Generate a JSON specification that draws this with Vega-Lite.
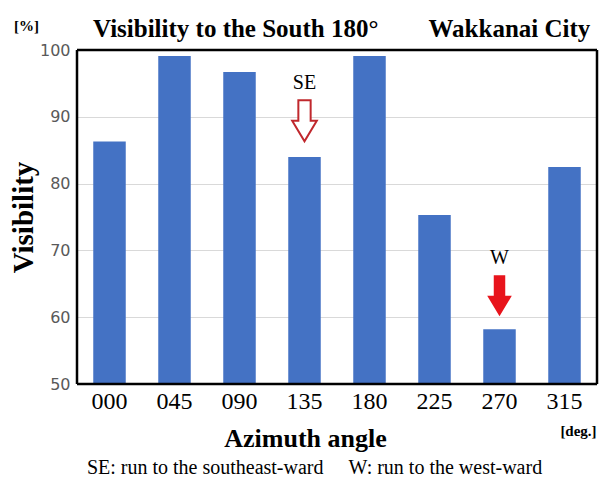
{
  "$schema": "https://vega.github.io/schema/vega-lite/v6.json",
  "width": 520,
  "height": 334,
  "autosize": {"type": "none"},
  "padding": {"left": 77, "top": 50, "right": 18, "bottom": 110},
  "background": "white",
  "config": {
    "view": {"stroke": null},
    "axis": {"ticks": false, "domain": false}
  },
  "title": {
    "text": "Visibility to the South 180°\u00a0\u00a0\u00a0\u00a0\u00a0\u00a0\u00a0\u00a0Wakkanai City",
    "font": "Liberation Serif",
    "fontSize": 25,
    "fontWeight": "bold",
    "color": "black",
    "anchor": "start",
    "frame": "group",
    "baseline": "alphabetic",
    "dx": 16,
    "offset": -44
  },
  "datasets": {
    "bars": [
      {"azimuth": "000", "visibility": 86.3},
      {"azimuth": "045", "visibility": 99.1},
      {"azimuth": "090", "visibility": 96.7},
      {"azimuth": "135", "visibility": 84.0},
      {"azimuth": "180", "visibility": 99.1},
      {"azimuth": "225", "visibility": 75.3},
      {"azimuth": "270", "visibility": 58.2},
      {"azimuth": "315", "visibility": 82.5}
    ],
    "notes": [
      {"azimuth": "135", "run": "SE", "at": 89.4},
      {"azimuth": "270", "run": "W", "at": 63.2}
    ],
    "frame": [
      {"side": "left", "azimuth": "000"},
      {"side": "right", "azimuth": "315"}
    ],
    "bounds": [
      {"visibility": 50},
      {"visibility": 100}
    ]
  },
  "layer": [
    {
      "data": {"name": "bars"},
      "mark": {"type": "bar", "color": "#4472c4", "clip": true},
      "encoding": {
        "x": {
          "field": "azimuth", "type": "nominal", "sort": null,
          "scale": {"paddingInner": 0.5, "paddingOuter": 0.25},
          "axis": {
            "orient": "bottom",
            "labelAngle": 0,
            "labelFont": "Liberation Serif",
            "labelFontSize": 24,
            "labelColor": "black",
            "labelPadding": 5,
            "title": "Azimuth angle",
            "titleFont": "Liberation Serif",
            "titleFontSize": 26,
            "titleFontWeight": "bold",
            "titleColor": "black",
            "titleX": 228,
            "titleY": 62,
            "titleBaseline": "alphabetic"
          }
        },
        "y": {
          "field": "visibility", "type": "quantitative",
          "scale": {"domain": [50, 100], "nice": false, "zero": false},
          "axis": {
            "orient": "left",
            "values": [50, 60, 70, 80, 90, 100],
            "grid": true,
            "gridColor": "#d9d9d9",
            "labelFont": "DejaVu Sans",
            "labelFontSize": 16,
            "labelColor": "#595959",
            "labelPadding": 7,
            "title": "Visibility",
            "titleFont": "Liberation Serif",
            "titleFontSize": 29,
            "titleFontWeight": "bold",
            "titleColor": "black",
            "titleAngle": 270,
            "titleX": -54,
            "titleY": 167,
            "titleAlign": "center",
            "titleBaseline": "middle"
          }
        }
      }
    },
    {
      "data": {"name": "notes"},
      "transform": [{"filter": "datum.run === 'SE'"}],
      "mark": {
        "type": "point",
        "shape": "M-0.3,-1L0.3,-1L0.3,0L0.6,0L0,1L-0.6,0L-0.3,0Z",
        "size": 1681,
        "filled": true,
        "fill": "white",
        "stroke": "#c0282d",
        "strokeWidth": 2,
        "opacity": 1
      },
      "encoding": {
        "x": {
          "field": "azimuth", "type": "nominal", "sort": null,
          "axis": {
            "orient": "bottom", "labels": false, "grid": false,
            "title": "[deg.]",
            "titleFont": "Liberation Serif", "titleFontSize": 15, "titleFontWeight": "bold", "titleColor": "black",
            "titleX": 501, "titleY": 46, "titleAlign": "center", "titleBaseline": "middle"
          }
        },
        "y": {
          "field": "at", "type": "quantitative",
          "axis": {
            "orient": "left", "labels": false, "grid": false,
            "title": "[%]",
            "titleFont": "Liberation Serif", "titleFontSize": 15, "titleFontWeight": "bold", "titleColor": "black",
            "titleAngle": 0,
            "titleX": -51, "titleY": -25, "titleAlign": "center", "titleBaseline": "middle"
          }
        }
      }
    },
    {
      "data": {"name": "notes"},
      "transform": [{"filter": "datum.run === 'W'"}],
      "mark": {
        "type": "point",
        "shape": "M-0.28,-1L0.28,-1L0.28,0L0.6,0L0,1L-0.6,0L-0.28,0Z",
        "size": 1681,
        "filled": true,
        "fill": "#e8141c",
        "strokeWidth": 0,
        "opacity": 1
      },
      "encoding": {
        "x": {
          "field": "azimuth", "type": "nominal", "sort": null,
          "axis": {
            "orient": "bottom", "labels": false, "grid": false,
            "title": "SE: run to the southeast-ward\u00a0\u00a0\u00a0\u00a0\u00a0W: run to the west-ward",
            "titleFont": "Liberation Serif", "titleFontSize": 20, "titleFontWeight": "normal", "titleColor": "black",
            "titleX": 237, "titleY": 83, "titleAlign": "center", "titleBaseline": "middle"
          }
        },
        "y": {"field": "at", "type": "quantitative", "axis": null}
      }
    },
    {
      "data": {"name": "notes"},
      "mark": {
        "type": "text",
        "font": "Liberation Serif",
        "fontSize": 20,
        "color": "black",
        "dy": -38,
        "baseline": "middle"
      },
      "encoding": {
        "x": {"field": "azimuth", "type": "nominal", "sort": null, "axis": null},
        "y": {"field": "at", "type": "quantitative", "axis": null},
        "text": {"field": "run"}
      }
    },
    {
      "data": {"name": "bounds"},
      "mark": {"type": "rule", "color": "black", "strokeWidth": 2.5},
      "encoding": {
        "y": {"field": "visibility", "type": "quantitative", "axis": null}
      }
    },
    {
      "data": {"name": "frame"},
      "transform": [{"filter": "datum.side === 'left'"}],
      "mark": {"type": "rule", "color": "black", "strokeWidth": 2.5},
      "encoding": {
        "x": {"field": "azimuth", "type": "nominal", "sort": null, "bandPosition": -0.5, "axis": null},
        "y": {"datum": 50, "type": "quantitative", "axis": null},
        "y2": {"datum": 100}
      }
    },
    {
      "data": {"name": "frame"},
      "transform": [{"filter": "datum.side === 'right'"}],
      "mark": {"type": "rule", "color": "black", "strokeWidth": 2.5},
      "encoding": {
        "x": {"field": "azimuth", "type": "nominal", "sort": null, "bandPosition": 1.5, "axis": null},
        "y": {"datum": 50, "type": "quantitative", "axis": null},
        "y2": {"datum": 100}
      }
    }
  ],
  "resolve": {"axis": {"x": "independent", "y": "independent"}}
}
